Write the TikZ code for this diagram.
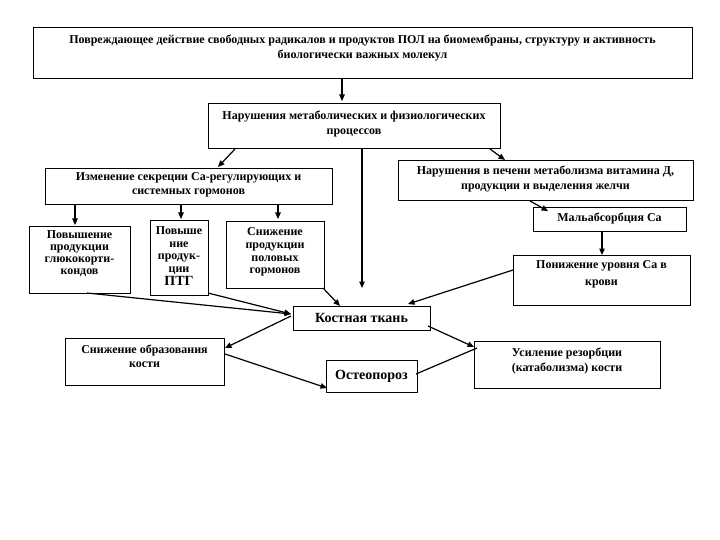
\documentclass[tikz,border=0pt]{standalone}
\usepackage{fontspec}
\setmainfont{Liberation Serif}
\usetikzlibrary{arrows.meta}
\begin{document}
\begin{tikzpicture}[x=1pt,y=-1pt,
  box/.style={draw=black,line width=0.9pt,rectangle,inner sep=0pt},
  txt/.style={align=center,inner sep=0pt,font=\bfseries\fontsize{12}{14.5}\selectfont},
  bigtxt/.style={align=center,inner sep=0pt,font=\bfseries\fontsize{14}{16}\selectfont},
  arr/.style={line width=1.2pt,-{Triangle[length=6.5pt,width=5.5pt]}},
  ln/.style={line width=1.2pt}]
\useasboundingbox (0,0) rectangle (720,540);
% boxes
\node[box,minimum width=659pt,minimum height=51pt] (top) at (362.5,52.5) {};
\node[txt] (toptxt) at (362.5,48) {Повреждающее действие свободных радикалов и продуктов ПОЛ на биомембраны, структуру и активность\\биологически важных молекул};
\node[box,minimum width=292pt,minimum height=45pt] (nar) at (354,125.5) {};
\node[txt] (nartxt) at (354,124) {Нарушения метаболических и физиологических\\процессов};
\node[box,minimum width=287pt,minimum height=36pt] (izm) at (188.5,186) {};
\node[txt] (izmtxt) at (188.5,185) {Изменение секреции Са-регулирующих и\\системных гормонов};
\node[box,minimum width=295pt,minimum height=40pt] (pech) at (545.5,180) {};
\node[txt] (pechtxt) at (545.5,179) {Нарушения в печени метаболизма витамина Д,\\продукции и выделения желчи};
\node[box,minimum width=153pt,minimum height=24pt] (mal) at (609.5,219) {};
\node[txt] (maltxt) at (609.5,218.5) {Мальабсорбция Са};
\node[box,minimum width=177pt,minimum height=50pt] (pon) at (601.5,280) {};
\node[txt,font=\bfseries\fontsize{12}{17}\selectfont] (pontxt) at (601.5,274) {Понижение уровня Са в\\крови};
\node[box,minimum width=101pt,minimum height=67pt] (gl) at (79.5,259.5) {};
\node[txt,font=\bfseries\fontsize{12}{11.8}\selectfont] (gltxt) at (79.5,253.5) {Повышение\\продукции\\глюкокорти-\\кондов};
\node[box,minimum width=58pt,minimum height=75pt] (ptg) at (179,257.5) {};
\node[txt,font=\bfseries\fontsize{12}{12.7}\selectfont] (ptgtxt) at (179,256) {Повыше\\ние\\продук-\\ции\\{\fontsize{14}{12.7}\selectfont ПТГ}};
\node[box,minimum width=98pt,minimum height=67pt] (pol) at (275,254.5) {};
\node[txt,font=\bfseries\fontsize{12}{12.7}\selectfont] (poltxt) at (275,252) {Снижение\\продукции\\половых\\гормонов};
\node[box,minimum width=137pt,minimum height=24pt] (kost) at (361.5,318) {};
\node[bigtxt] (kosttxt) at (361.5,318) {Костная ткань};
\node[box,minimum width=159pt,minimum height=47pt] (sn) at (144.5,361.5) {};
\node[txt,font=\bfseries\fontsize{12}{13.5}\selectfont] (sntxt) at (144.5,356.5) {Снижение образования\\кости};
\node[box,minimum width=91pt,minimum height=32pt] (ost) at (371.5,376) {};
\node[bigtxt] (osttxt) at (371.5,376) {Остеопороз};
\node[box,minimum width=186pt,minimum height=47pt] (us) at (567,364.5) {};
\node[txt] (ustxt) at (567,361) {Усиление резорбции\\(катаболизма) кости};
% coordinates
\coordinate (a1) at (342,78);
\coordinate (a2) at (342,101);
\coordinate (b1) at (235,149);
\coordinate (b2) at (218,167);
\coordinate (c1) at (490,149);
\coordinate (c2) at (505,160);
\coordinate (v1) at (362,148);
\coordinate (v2) at (362,288);
\coordinate (d1) at (530,201);
\coordinate (d2) at (548,211);
\coordinate (e1) at (602,231);
\coordinate (e2) at (602,255);
\coordinate (f1) at (75,204);
\coordinate (f2) at (75,225);
\coordinate (g1) at (181,204);
\coordinate (g2) at (181,219);
\coordinate (h1) at (278,204);
\coordinate (h2) at (278,219);
\coordinate (k1) at (87,293);
\coordinate (kl) at (291,314);
\coordinate (k2) at (208,293);
\coordinate (m1) at (323,288);
\coordinate (m2) at (340,306);
\coordinate (p1) at (513,270);
\coordinate (p2) at (408,304);
\coordinate (s1) at (291,316);
\coordinate (s2) at (225,348);
\coordinate (o1) at (225,354);
\coordinate (o2) at (327,388);
\coordinate (u1) at (428,326);
\coordinate (u2) at (474,347);
\coordinate (w1) at (416,374);
\coordinate (w2) at (477,348);
% connectors
\draw[arr] (a1) -- (a2);
\draw[arr] (b1) -- (b2);
\draw[arr] (c1) -- (c2);
\draw[arr] (v1) -- (v2);
\draw[arr] (d1) -- (d2);
\draw[arr] (e1) -- (e2);
\draw[arr] (f1) -- (f2);
\draw[arr] (g1) -- (g2);
\draw[arr] (h1) -- (h2);
\draw[arr] (k1) -- (kl);
\draw[arr] (k2) -- (kl);
\draw[arr] (m1) -- (m2);
\draw[arr] (p1) -- (p2);
\draw[arr] (s1) -- (s2);
\draw[arr] (o1) -- (o2);
\draw[arr] (u1) -- (u2);
\draw[ln] (w1) -- (w2);
\end{tikzpicture}
\end{document}
